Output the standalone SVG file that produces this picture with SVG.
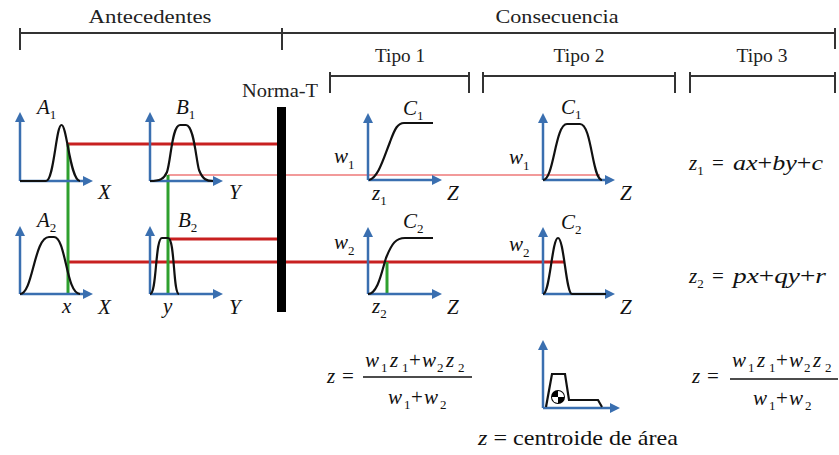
<svg xmlns="http://www.w3.org/2000/svg" width="839" height="455" viewBox="0 0 839 455">
<defs>
<style>
.hdr{font-family:"Liberation Serif","Times New Roman",serif;font-size:19px;fill:#222;text-anchor:middle}
.tp{font-size:18px}
.m{font-family:"Liberation Serif","Times New Roman",serif;font-style:italic;font-size:21px;fill:#111}
.sub{font-size:13px;font-style:normal}
.n{font-style:normal}
.br{stroke:#333;stroke-width:2;fill:none}
.ax{stroke:#3a6fb0;stroke-width:2.5;fill:none;marker-end:url(#ah)}
.cv{stroke:#111;stroke-width:2.2;fill:none}
.red{stroke:#c82020;stroke-width:3}
.pink{stroke:#f29a9a;stroke-width:2}
.grn{stroke:#2ea02e;stroke-width:3}
.fl{stroke:#111;stroke-width:1.5}
</style>
<marker id="ah" viewBox="0 0 10 10" refX="4" refY="5" markerWidth="10" markerHeight="10" markerUnits="userSpaceOnUse" orient="auto">
<path d="M0,0 L10,5 L0,10 z" fill="#3a6fb0"/>
</marker>
</defs>
<rect width="839" height="455" fill="#fff"/>

<g id="headers">
<text class="hdr" x="150" y="23" textLength="123" lengthAdjust="spacingAndGlyphs">Antecedentes</text>
<text class="hdr" x="557" y="23" textLength="123" lengthAdjust="spacingAndGlyphs">Consecuencia</text>
<path class="br" d="M20,28 V50 M20,33 H835 M282,28 V50 M835,28 V49"/>
<text class="hdr tp" x="400" y="62" textLength="50" lengthAdjust="spacingAndGlyphs">Tipo 1</text>
<text class="hdr tp" x="579" y="62" textLength="51" lengthAdjust="spacingAndGlyphs">Tipo 2</text>
<text class="hdr tp" x="762" y="62" textLength="51" lengthAdjust="spacingAndGlyphs">Tipo 3</text>
<path class="br" d="M330,72 V93 M330,76 H469 M469,72 V93 M483,72 V93 M483,76 H675 M675,72 V93 M690,72 V93 M690,76 H835 M835,72 V93"/>
</g>

<g id="connectors">
<line class="red" x1="68" y1="144" x2="281" y2="144"/>
<line class="pink" x1="168" y1="175" x2="600" y2="175"/>
<line class="red" x1="168" y1="239" x2="281" y2="239"/>
<line class="red" x1="68" y1="262" x2="564" y2="262"/>
<line class="grn" x1="68" y1="144" x2="68" y2="294"/>
<line class="grn" x1="168" y1="175" x2="168" y2="294"/>
<line class="grn" x1="387" y1="262" x2="387" y2="293"/>
</g>

<g id="normaT">
<text class="hdr" x="280" y="97" textLength="76" lengthAdjust="spacingAndGlyphs">Norma-T</text>
<rect x="277" y="107" width="9" height="205" fill="#000"/>
</g>

<g id="A1">
<line class="ax" x1="20" y1="181" x2="20" y2="118"/>
<line class="ax" x1="20" y1="181" x2="87" y2="181"/>
<path class="cv" d="M20,181 H46 C54,181 56,125 61.5,125 C67,125 70,181 80,181"/>
<text class="m" x="37" y="114">A<tspan class="sub" dy="5">1</tspan></text>
<text class="m" x="98" y="199">X</text>
</g>

<g id="A2">
<line class="ax" x1="20" y1="294" x2="20" y2="232"/>
<line class="ax" x1="20" y1="294" x2="87" y2="294"/>
<path class="cv" d="M20,294 C33,294 34,237 49,237 L54,237 C66,237 66,294 80,294"/>
<text class="m" x="37" y="227">A<tspan class="sub" dy="5">2</tspan></text>
<text class="m" x="62" y="313">x</text>
<text class="m" x="98" y="314">X</text>
</g>

<g id="B1">
<line class="ax" x1="150" y1="181" x2="150" y2="118"/>
<line class="ax" x1="150" y1="181" x2="217" y2="181"/>
<path class="cv" d="M150,181 C160,181 164,179 167,172 C171,160 172,125 180,125 L186,125 C194,125 196,160 199,170 C203,180 207,181 213,181"/>
<text class="m" x="176" y="114">B<tspan class="sub" dy="5">1</tspan></text>
<text class="m" x="229" y="199">Y</text>
</g>

<g id="B2">
<line class="ax" x1="150" y1="294" x2="150" y2="232"/>
<line class="ax" x1="150" y1="294" x2="217" y2="294"/>
<path class="cv" d="M150,294 C157,294 155,238 162,238 L168,238 C175,238 173,294 179,294"/>
<text class="m" x="178" y="227">B<tspan class="sub" dy="5">2</tspan></text>
<text class="m" x="163" y="313">y</text>
<text class="m" x="229" y="314">Y</text>
</g>

<g id="T1C1">
<line class="ax" x1="368" y1="180" x2="368" y2="119"/>
<line class="ax" x1="368" y1="180" x2="436" y2="180"/>
<path class="cv" d="M369,180 C378,178 383,160 390,142 C395,128 398,123 404,123 H433"/>
<text class="m" x="403" y="115">C<tspan class="sub" dy="5">1</tspan></text>
<text class="m" x="334" y="163">w<tspan class="sub" dy="6">1</tspan></text>
<text class="m" x="372" y="200">z<tspan class="sub" dy="5">1</tspan></text>
<text class="m" x="447" y="200">Z</text>
</g>

<g id="T1C2">
<line class="ax" x1="368" y1="294" x2="368" y2="233"/>
<line class="ax" x1="368" y1="294" x2="436" y2="294"/>
<path class="cv" d="M368,294 C378,294 382,270 386,258 C392,243 396,238 405,238 H433"/>
<text class="m" x="403" y="228">C<tspan class="sub" dy="5">2</tspan></text>
<text class="m" x="334" y="249">w<tspan class="sub" dy="6">2</tspan></text>
<text class="m" x="372" y="313">z<tspan class="sub" dy="5">2</tspan></text>
<text class="m" x="447" y="314">Z</text>
</g>

<g id="T2C1">
<line class="ax" x1="543" y1="180" x2="543" y2="119"/>
<line class="ax" x1="543" y1="180" x2="609" y2="180"/>
<path class="cv" d="M543,180 C554,180 555,124 567,124 H580 C592,124 592,180 602,180"/>
<text class="m" x="561" y="114">C<tspan class="sub" dy="5">1</tspan></text>
<text class="m" x="509" y="164">w<tspan class="sub" dy="6">1</tspan></text>
<text class="m" x="620" y="200">Z</text>
</g>

<g id="T2C2">
<line class="ax" x1="543" y1="294" x2="543" y2="233"/>
<line class="ax" x1="543" y1="294" x2="609" y2="294"/>
<path class="cv" d="M543,294 C550,294 552,238 558,238 C564,238 566,294 572,294 H606"/>
<text class="m" x="561" y="229">C<tspan class="sub" dy="5">2</tspan></text>
<text class="m" x="509" y="251">w<tspan class="sub" dy="6">2</tspan></text>
<text class="m" x="620" y="314">Z</text>
</g>

<g id="T3">
<text class="m" x="689" y="170">z<tspan class="sub" dy="5">1</tspan></text>
<text class="m n" x="712" y="170">=</text>
<text class="m" x="733" y="170" textLength="90" lengthAdjust="spacingAndGlyphs">ax<tspan class="n">+</tspan>by<tspan class="n">+</tspan>c</text>
<text class="m" x="689" y="283">z<tspan class="sub" dy="5">2</tspan></text>
<text class="m n" x="712" y="283">=</text>
<text class="m" x="733" y="283" textLength="93" lengthAdjust="spacingAndGlyphs">px<tspan class="n">+</tspan>qy<tspan class="n">+</tspan>r</text>
</g>

<g id="F1">
<text class="m" x="327" y="383">z</text>
<text class="m n" x="342" y="383">=</text>
<line class="fl" x1="363" y1="377" x2="472" y2="377"/>
<text class="m" y="367"><tspan x="365">w</tspan><tspan class="sub" x="381" dy="5">1</tspan><tspan x="390" dy="-5">z</tspan><tspan class="sub" x="402" dy="5">1</tspan><tspan class="n" x="409" dy="-5">+</tspan><tspan x="422">w</tspan><tspan class="sub" x="437" dy="5">2</tspan><tspan x="446" dy="-5">z</tspan><tspan class="sub" x="458" dy="5">2</tspan></text>
<text class="m" y="404"><tspan x="388">w</tspan><tspan class="sub" x="404" dy="5">1</tspan><tspan class="n" x="411" dy="-5">+</tspan><tspan x="424">w</tspan><tspan class="sub" x="440" dy="5">2</tspan></text>
</g>

<g id="F2">
<line class="ax" x1="543" y1="408" x2="543" y2="346"/>
<line class="ax" x1="543" y1="408" x2="614" y2="408"/>
<path class="cv" d="M546,407 L552,374 L565,374 L569,400 L598,400 L602,407"/>
<circle cx="558" cy="397" r="7" fill="#000"/>
<path d="M558,397 V391 A6,6 0 0 1 564,397 Z" fill="#fff"/>
<path d="M558,397 V403 A6,6 0 0 1 552,397 Z" fill="#fff"/>
<text class="m" x="478" y="445" textLength="200" lengthAdjust="spacingAndGlyphs">z<tspan class="n"> = centroide de área</tspan></text>
</g>

<g id="F3">
<text class="m" x="692" y="383">z</text>
<text class="m n" x="707" y="383">=</text>
<line class="fl" x1="730" y1="379" x2="838" y2="379"/>
<text class="m" y="367"><tspan x="732">w</tspan><tspan class="sub" x="748" dy="5">1</tspan><tspan x="757" dy="-5">z</tspan><tspan class="sub" x="769" dy="5">1</tspan><tspan class="n" x="776" dy="-5">+</tspan><tspan x="789">w</tspan><tspan class="sub" x="804" dy="5">2</tspan><tspan x="813" dy="-5">z</tspan><tspan class="sub" x="825" dy="5">2</tspan></text>
<text class="m" y="405"><tspan x="753">w</tspan><tspan class="sub" x="769" dy="5">1</tspan><tspan class="n" x="776" dy="-5">+</tspan><tspan x="789">w</tspan><tspan class="sub" x="805" dy="5">2</tspan></text>
</g>
</svg>
